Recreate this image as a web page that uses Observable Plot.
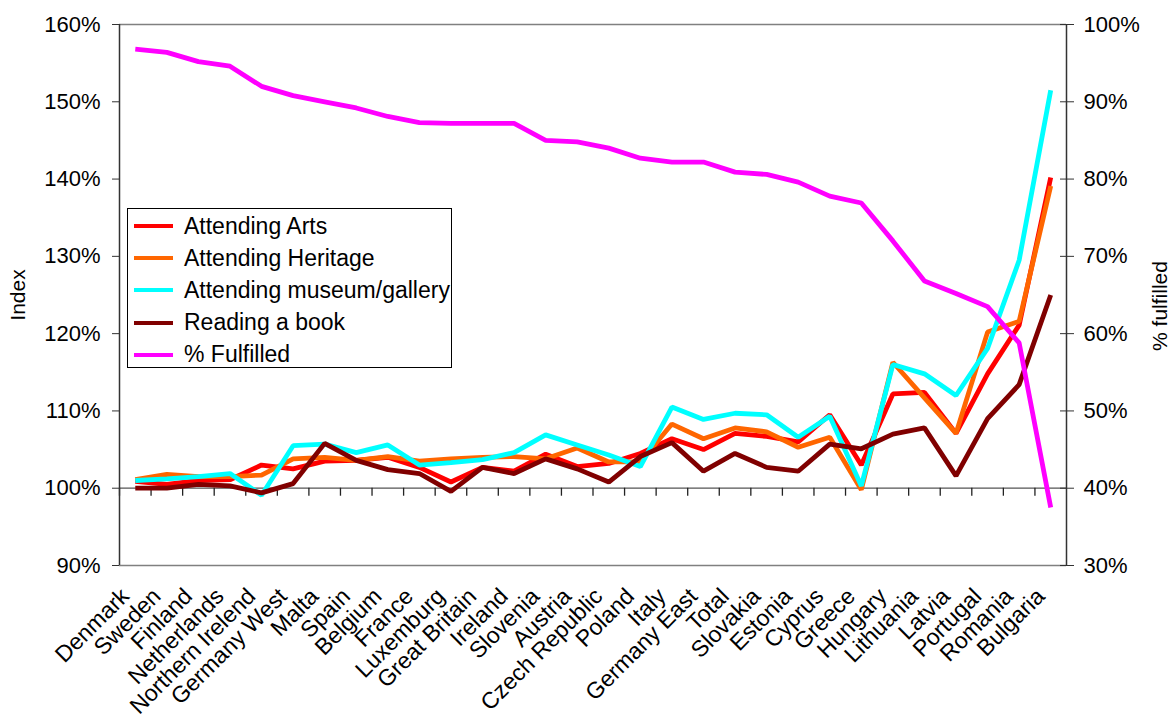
<!DOCTYPE html>
<html><head><meta charset="utf-8">
<script src="https://cdn.jsdelivr.net/npm/d3@7"></script>
<script src="https://cdn.jsdelivr.net/npm/@observablehq/plot@0.6"></script>
<style>
body{margin:0;background:#fff;font-family:Arial,"Liberation Sans",sans-serif;}
#wrap{position:relative;width:1173px;height:715px;}
#legend{position:absolute;left:127px;top:208px;width:325px;height:160px;border:1px solid #000;box-sizing:border-box;background:#fff;font-size:23px;color:#000;}
.row{position:absolute;left:6px;height:32px;display:flex;align-items:center;white-space:nowrap;}
.sw{width:39px;height:4px;margin-right:11px;}
</style></head><body><div id="wrap"><div id="legend"></div></div>
<script>
const countries = ["Denmark","Sweden","Finland","Netherlands","Northern Irelend","Germany West","Malta","Spain","Belgium","France","Luxemburg","Great Britain","Ireland","Slovenia","Austria","Czech Republic","Poland","Italy","Germany East","Total","Slovakia","Estonia","Cyprus","Greece","Hungary","Lithuania","Latvia","Portugal","Romania","Bulgaria"];
// Index values (%), left axis
const attendingArts = [100.9,100.5,101.0,101.1,103.0,102.5,103.5,103.6,104.0,102.7,100.8,102.7,102.2,104.4,102.8,103.2,104.5,106.4,105.0,107.1,106.7,106.0,109.5,103.0,112.2,112.4,107.1,114.8,121.1,140.2];
const attendingHeritage = [101.1,101.8,101.5,101.5,101.7,103.8,104.0,103.6,104.1,103.5,103.8,104.0,104.1,103.8,105.2,103.4,103.4,108.3,106.4,107.8,107.3,105.3,106.6,99.8,116.3,111.7,107.1,120.2,121.6,139.1];
const attendingMuseum = [101.0,101.2,101.5,101.9,99.1,105.5,105.7,104.6,105.6,103.0,103.3,103.7,104.6,106.9,105.6,104.3,102.8,110.5,108.9,109.7,109.5,106.6,109.3,100.3,116.0,114.8,112.0,118.1,129.5,151.5];
const readingBook = [100.0,100.0,100.5,100.3,99.4,100.6,105.8,103.6,102.4,101.9,99.6,102.7,101.9,103.8,102.5,100.8,104.1,105.9,102.2,104.5,102.7,102.2,105.7,105.1,107.0,107.8,101.6,109.0,113.4,125.0];
// % fulfilled, right axis
const fulfilled = [96.8,96.4,95.2,94.6,92.0,90.8,90.0,89.2,88.1,87.3,87.2,87.2,87.2,85.0,84.8,84.0,82.7,82.2,82.2,80.9,80.6,79.6,77.8,76.9,72.0,66.8,65.2,63.5,58.8,37.5];
const leftTicks = [90,100,110,120,130,140,150,160];
const rightTicks = [30,40,50,60,70,80,90,100];
const seriesNames = ["Attending Arts","Attending Heritage","Attending museum/gallery","Reading a book","% Fulfilled"];
const seriesColors = ["#ff0000","#ff6600","#00ffff","#800000","#ff00ff"];

// right axis (30–100%) shares the left scale (90–160%) with a fixed offset
const OFFSET = leftTicks[0] - rightTicks[0];

const seriesValues = [attendingArts, attendingHeritage, attendingMuseum, readingBook, fulfilled.map(v => v + OFFSET)];
const rows = [];
seriesNames.forEach((s, k) => countries.forEach((c, i) => rows.push({series: s, country: c, value: seriesValues[k][i]})));

const W = 1173, H = 715, ML = 119, MR = 107, MT = 24, MB = 150;
const step = (W - ML - MR) / countries.length;
const last = countries[countries.length - 1];
const pxPerUnit = (H - MT - MB) / 70;

const chart = Plot.plot({
  width: W, height: H,
  marginLeft: ML, marginRight: MR, marginTop: MT, marginBottom: MB,
  style: {fontFamily: "Arial, 'Liberation Sans', sans-serif", fontSize: "22px", background: "#fff", color: "#000", overflow: "visible"},
  x: {type: "point", domain: countries, padding: 0.5, round: false},
  y: {domain: [90, 160]},
  color: {domain: seriesNames, range: seriesColors},
  marks: [
    Plot.ruleY([leftTicks[0], leftTicks[leftTicks.length - 1]], {stroke: "#808080", strokeWidth: 1.3}),
    Plot.ruleY([100], {stroke: "#555", strokeWidth: 1.3}),
    Plot.ruleX(countries, {x: d => d, dx: -step / 2, y1: 100, y2: 100 - 8 / pxPerUnit, stroke: "#222", strokeWidth: 1.3}),
    Plot.ruleX([countries[0]], {x: d => d, dx: -step / 2, y1: 90, y2: 160, stroke: "#333", strokeWidth: 1.5}),
    Plot.ruleX([last], {x: d => d, dx: step / 2, y1: 90, y2: 160, stroke: "#333", strokeWidth: 1.5}),
    Plot.axisY({anchor: "left", ticks: leftTicks, tickFormat: d => d + "%", tickSize: 7, tickPadding: 12, label: null, stroke: "#333"}),
    Plot.axisY({anchor: "right", ticks: leftTicks, tickFormat: d => (d - OFFSET) + "%", tickSize: 7, tickPadding: 10, label: null, stroke: "#333"}),
    Plot.axisY({anchor: "right", ticks: leftTicks, tickFormat: null, text: null, tickSize: -7, label: null, stroke: "#333"}),
    Plot.axisX({anchor: "bottom", tickRotate: -45, tickSize: 0, tickPadding: 27, dx: -10, fontSize: 23, label: null}),
    Plot.line(rows, {x: "country", y: "value", z: "series", stroke: "series", strokeWidth: 4.8, strokeLinejoin: "miter", strokeLinecap: "butt"}),
    Plot.text(["Index"], {frameAnchor: "left", textAnchor: "middle", dx: -101, rotate: -90, text: d => d, fontSize: 21}),
    Plot.text(["% fulfilled"], {frameAnchor: "right", textAnchor: "middle", dx: 94, dy: 11, rotate: -90, text: d => d, fontSize: 21})
  ]
});
document.getElementById("wrap").prepend(chart);

const legend = document.getElementById("legend");
seriesNames.forEach((s, k) => {
  const r = document.createElement("div");
  r.className = "row";
  r.style.top = (1 + k * 32.2) + "px";
  r.innerHTML = `<span class="sw" style="background:${seriesColors[k]}"></span><span>${s}</span>`;
  legend.appendChild(r);
});
</script>
</body></html>
